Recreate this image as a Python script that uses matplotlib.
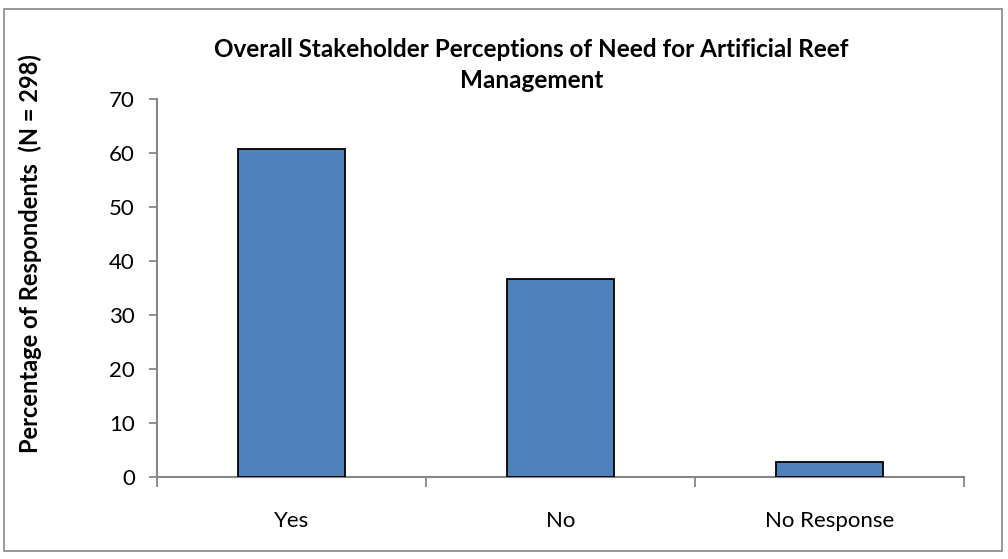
import matplotlib
matplotlib.use("Agg")
import matplotlib.pyplot as plt
from matplotlib.patches import Rectangle

categories = ["Yes", "No", "No Response"]
values = [60.7, 36.6, 2.7]
yticks = [0, 10, 20, 30, 40, 50, 60, 70]

plt.rcParams['font.family'] = ['Lato', 'DejaVu Sans']

fig = plt.figure(figsize=(10.08, 5.59), dpi=100)
ax = fig.add_axes([0.1558, 0.1472, 0.8005, 0.6752])

x = list(range(len(categories)))
ax.bar(x, values, width=0.4, color="#4F81BD", edgecolor="black", linewidth=1.3, zorder=3)

ax.set_xlim(-0.5, len(categories) - 0.5)
ax.set_ylim(0, 70)
ax.set_yticks(yticks)
ax.set_yticklabels([str(v) for v in yticks], fontsize=16)
ax.set_xticks(x)
ax.set_xticklabels(categories, fontsize=16)
ax.tick_params(axis='x', length=0, pad=25)
ax.set_xticks([i + 0.5 for i in range(-1, len(categories))], minor=True)
ax.tick_params(axis='x', which='minor', length=7, color='#868686', width=1.3)
ax.tick_params(axis='y', length=6, color='#868686', width=1.3, pad=10)

for s in ['top', 'right']:
    ax.spines[s].set_visible(False)
for s in ['left', 'bottom']:
    ax.spines[s].set_color('#868686')
    ax.spines[s].set_linewidth(1.5)

fig.text(0.030, 0.546, "Percentage of Respondents  (N = 298)", rotation=90,
         ha='center', va='center', fontsize=17, fontweight='bold')
fig.text(0.527, 0.884, "Overall Stakeholder Perceptions of Need for Artificial Reef\nManagement",
         ha='center', va='center', fontsize=17.5, fontweight='bold', linespacing=1.4)

fig.patches.append(Rectangle((0.004, 0.014), 0.99, 0.97, transform=fig.transFigure,
                             fill=False, edgecolor='#868686', linewidth=1.2))

fig.savefig("out.png", dpi=100)
